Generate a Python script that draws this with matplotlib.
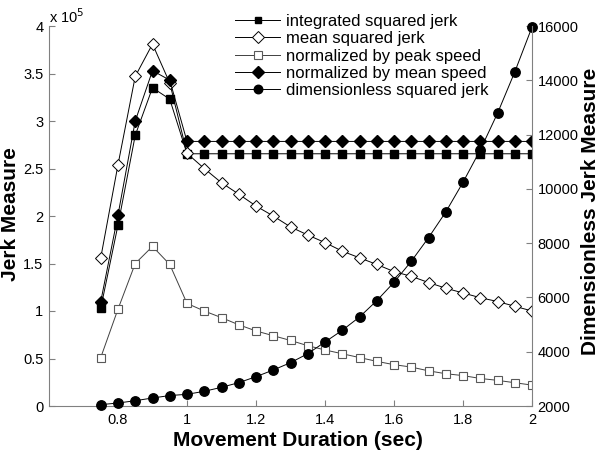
import numpy as np
from matplotlib import pyplot as plt
from matplotlib.ticker import FuncFormatter

plt.rcParams['font.family'] = ['Liberation Sans', 'DejaVu Sans']

# movement durations (sec)
duration = [0.75, 0.80, 0.85, 0.90, 0.95, 1.00, 1.05, 1.10, 1.15, 1.20,
            1.25, 1.30, 1.35, 1.40, 1.45, 1.50, 1.55, 1.60, 1.65, 1.70,
            1.75, 1.80, 1.85, 1.90, 1.95, 2.00]

# left axis series (x 10^5)
integrated_sq_jerk = [1.03, 1.905, 2.85, 3.35, 3.23, 2.655, 2.655, 2.655, 2.655, 2.655,
                      2.655, 2.655, 2.655, 2.655, 2.655, 2.655, 2.655, 2.655, 2.655, 2.655,
                      2.655, 2.655, 2.655, 2.655, 2.655, 2.655]
mean_sq_jerk = [1.56, 2.54, 3.47, 3.81, 3.40, 2.66, 2.50, 2.35, 2.23, 2.105,
                2.00, 1.885, 1.80, 1.72, 1.63, 1.56, 1.49, 1.415, 1.365, 1.30,
                1.24, 1.19, 1.14, 1.10, 1.05, 1.00]
norm_peak_speed = [0.51, 1.02, 1.50, 1.68, 1.49, 1.08, 1.00, 0.93, 0.855, 0.79,
                   0.74, 0.69, 0.635, 0.59, 0.55, 0.51, 0.47, 0.435, 0.41, 0.37,
                   0.34, 0.32, 0.29, 0.27, 0.245, 0.22]
norm_mean_speed = [1.10, 2.01, 3.00, 3.53, 3.43, 2.785, 2.785, 2.785, 2.785, 2.785,
                   2.785, 2.785, 2.785, 2.785, 2.785, 2.785, 2.785, 2.785, 2.785, 2.785,
                   2.785, 2.785, 2.785, 2.785, 2.785, 2.785]

# right axis series
dimensionless_jerk = [2050, 2110, 2195, 2295, 2385, 2431, 2541, 2689, 2860, 3080,
                      3326, 3596, 3927, 4358, 4789, 5279, 5880, 6557, 7330, 8200,
                      9147, 10241, 11430, 12783, 14305, 15960]

scale = 1e5
x = np.array(duration)

fig = plt.figure(figsize=(6.02, 4.53), dpi=100)
ax = fig.add_axes([49 / 602, 47 / 453, 483 / 602, 380 / 453])
ax2 = ax.twinx()

lw = 0.7
h1, = ax.plot(x, np.array(integrated_sq_jerk) * scale, color='black', lw=lw,
              marker='s', ms=5.5, mfc='black', mec='black',
              label='integrated squared jerk')
h2, = ax.plot(x, np.array(mean_sq_jerk) * scale, color='black', lw=lw,
              marker='D', ms=6.3, mfc='white', mec='black', mew=0.7,
              label='mean squared jerk')
h3, = ax.plot(x, np.array(norm_peak_speed) * scale, color='0.25', lw=lw,
              marker='s', ms=6, mfc='white', mec='0.35', mew=0.8,
              label='normalized by peak speed')
h4, = ax.plot(x, np.array(norm_mean_speed) * scale, color='black', lw=lw,
              marker='D', ms=6.5, mfc='black', mec='black',
              label='normalized by mean speed')
h5, = ax2.plot(x, dimensionless_jerk, color='black', lw=lw,
               marker='o', ms=6.8, mfc='black', mec='black',
               label='dimensionless squared jerk', clip_on=False)

ax.set_xlim(0.6, 2.0)
ax.set_ylim(0, 4e5)
ax2.set_ylim(2000, 16000)

ax.set_xticks([0.8, 1.0, 1.2, 1.4, 1.6, 1.8, 2.0])
ax.xaxis.set_major_formatter(FuncFormatter(lambda v, p: f'{v:g}'))
ax.set_yticks(np.arange(0, 4.01, 0.5) * scale)
ax.yaxis.set_major_formatter(FuncFormatter(lambda v, p: f'{v / scale:g}'))
ax2.set_yticks(range(2000, 16001, 2000))

ax.text(0.0, 1.0, r'x 10$^5$', transform=ax.transAxes, fontsize=10.5,
        ha='left', va='bottom')

for a in (ax, ax2):
    a.tick_params(direction='in', labelsize=10.5, length=4, color='0.5', pad=4)
    a.spines['top'].set_visible(False)
    for s in a.spines.values():
        s.set_color('0.5')
ax.tick_params(axis='x', pad=5)
ax.spines['right'].set_visible(False)
ax2.spines['left'].set_visible(False)
ax2.spines['bottom'].set_visible(False)

fig.text(298 / 602, 1 - 446 / 453, 'Movement Duration (sec)', fontsize=15,
         fontweight='bold', ha='center', va='baseline')
fig.text(11 / 602, 1 - 214 / 453, 'Jerk Measure', fontsize=15,
         fontweight='bold', ha='center', va='center', rotation=90)
fig.text(590 / 602, 1 - 211 / 453, 'Dimensionless Jerk Measure', fontsize=15,
         fontweight='bold', ha='center', va='center', rotation=90)

fig.legend(handles=[h1, h2, h3, h4, h5], loc='upper left',
           bbox_to_anchor=(235 / 602, 1 - 14 / 453), frameon=False,
           fontsize=12, handlelength=2.7, handletextpad=0.36, labelspacing=0.14,
           borderpad=0, borderaxespad=0, markerscale=0.9)

fig.savefig('out.png', dpi=100)
